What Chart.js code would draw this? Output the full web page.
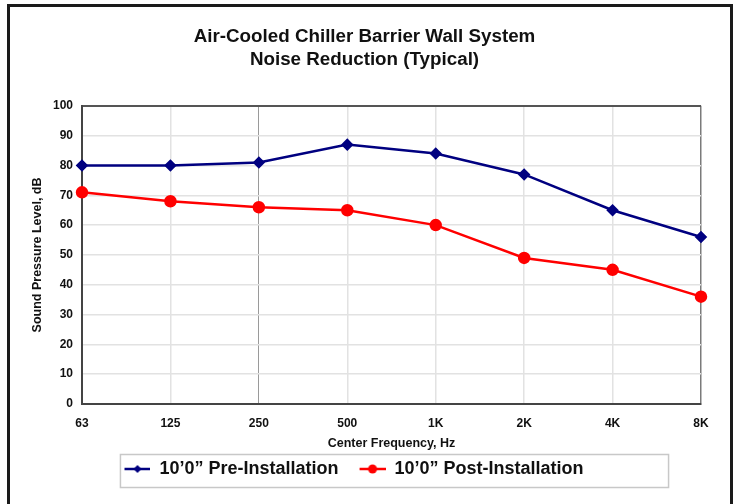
<!DOCTYPE html>
<html>
<head>
<meta charset="utf-8">
<script src="https://cdn.jsdelivr.net/npm/chart.js@4"></script>
<style>
  html, body { margin: 0; padding: 0; background: #fff; }
  #wrap { width: 736px; height: 504px; position: relative; }
</style>
</head>
<body>
<div id="wrap"><canvas id="ruidoChart"></canvas></div>
<script>
// datos
const frecuencias = ['63', '125', '250', '500', '1K', '2K', '4K', '8K'];
const preInstalacion = [80, 80, 81, 87, 84, 77, 65, 56];
const postInstalacion = [71, 68, 66, 65, 60, 49, 45, 36];
const ticksY = [0, 10, 20, 30, 40, 50, 60, 70, 80, 90, 100];

const FUENTE = '"Liberation Sans", Arial, sans-serif';

// icono de leyenda: línea + marcador (desplazado a la derecha para dejar hueco entre items)
function iconoLeyenda(color, tipo) {
    const c = document.createElement('canvas');
    c.width = 40; c.height = 12;
    const g = c.getContext('2d');
    g.strokeStyle = color; g.fillStyle = color; g.lineWidth = 2.5;
    g.beginPath(); g.moveTo(14, 6); g.lineTo(40, 6); g.stroke();
    g.beginPath();
    if (tipo === 'rombo') {
        g.moveTo(27, 2); g.lineTo(31, 6); g.lineTo(27, 10); g.lineTo(23, 6);
    } else {
        g.arc(27, 6, 4.5, 0, Math.PI * 2);
    }
    g.closePath(); g.fill();
    return c;
}
const iconos = [iconoLeyenda('#000080', 'rombo'), iconoLeyenda('#ff0000', 'circulo')];
// espacios al final del último item para correr la leyenda a la izquierda
const relleno = ['', '\u00a0\u00a0\u00a0\u00a0\u00a0\u00a0\u00a0'];

// marco negro y caja de la leyenda
const marcoPlugin = {
    id: 'marco',
    beforeDraw(chart) {
        const ctx = chart.ctx;
        ctx.save();
        ctx.fillStyle = '#fff';
        ctx.fillRect(0, 0, chart.width, chart.height);
        ctx.strokeStyle = '#1a1a1a';
        ctx.lineWidth = 3;
        ctx.strokeRect(8.5, 5.5, 723, 530);
        ctx.restore();
    },
    afterDraw(chart) {
        const lg = chart.legend;
        if (!lg || !lg.legendHitBoxes.length) return;
        const hb = lg.legendHitBoxes;
        const izq = hb[0].left + 10;
        const ult = hb[hb.length - 1];
        const der = ult.left + ult.width + 50;
        const ctx = chart.ctx;
        ctx.save();
        ctx.strokeStyle = '#c8c8c8';
        ctx.lineWidth = 1.5;
        ctx.strokeRect(izq, lg.top + 1.5, der - izq, lg.height - 2);
        ctx.restore();
    }
};

new Chart(document.getElementById('ruidoChart'), {
    type: 'line',
    data: {
        labels: frecuencias,
        datasets: [{
            label: '10’0” Pre-Installation',
            data: preInstalacion,
            borderColor: '#000080',
            backgroundColor: '#000080',
            borderWidth: 2.5,
            pointStyle: 'rectRot',
            pointRadius: 4.5,
            pointHoverRadius: 4.5,
            tension: 0
        }, {
            label: '10’0” Post-Installation',
            data: postInstalacion,
            borderColor: '#ff0000',
            backgroundColor: '#ff0000',
            borderWidth: 2.5,
            pointStyle: 'circle',
            pointRadius: 5,
            pointHoverRadius: 5,
            tension: 0
        }]
    },
    options: {
        responsive: true,
        maintainAspectRatio: false,
        animation: false,
        layout: { padding: { left: 28, right: 35, top: 0, bottom: 16 } },
        scales: {
            x: {
                offset: false,
                grid: {
                    drawTicks: false,
                    color: ctx => ctx.index === 2 ? '#9a9a9a' : (ctx.index === 7 ? '#7a7a7a' : '#e2e2e2'),
                    lineWidth: ctx => ctx.index === 2 ? 1 : 1.5
                },
                border: { color: '#444', width: 2 },
                ticks: {
                    color: '#111',
                    padding: 12,
                    maxRotation: 0,
                    font: { family: FUENTE, size: 12, weight: 'bold' }
                },
                title: {
                    display: true,
                    text: 'Center Frequency, Hz',
                    color: '#111',
                    padding: { top: 4, bottom: 2 },
                    font: { family: FUENTE, size: 12.5, weight: 'bold' }
                },
                afterFit(scale) { scale.height = 49; }
            },
            y: {
                min: 0,
                max: 100,
                afterBuildTicks(scale) { scale.ticks = ticksY.map(v => ({ value: v })); },
                grid: {
                    drawTicks: false,
                    color: ctx => ctx.tick && ctx.tick.value === 100 ? '#555' : '#e2e2e2',
                    lineWidth: ctx => ctx.tick && ctx.tick.value === 100 ? 2 : 1.5
                },
                border: { color: '#444', width: 2 },
                ticks: {
                    color: '#111',
                    padding: 9,
                    font: { family: FUENTE, size: 12, weight: 'bold' }
                },
                title: {
                    display: true,
                    text: 'Sound Pressure Level, dB',
                    color: '#111',
                    padding: { top: 2, bottom: 2 },
                    font: { family: FUENTE, size: 12.5, weight: 'bold' }
                },
                afterFit(scale) { scale.width = 54; }
            }
        },
        plugins: {
            title: {
                display: true,
                text: ['Air-Cooled Chiller Barrier Wall System', 'Noise Reduction (Typical)'],
                color: '#111',
                font: { family: FUENTE, size: 18.8, weight: 'bold', lineHeight: 1.22 },
                padding: { top: 25.5, bottom: 34.5 }
            },
            legend: {
                position: 'bottom',
                labels: {
                    usePointStyle: true,
                    pointStyleWidth: 40,
                    padding: 7,
                    color: '#111',
                    font: { family: FUENTE, size: 18, weight: 'bold' },
                    generateLabels(chart) {
                        return chart.data.datasets.map((ds, i) => ({
                            text: ds.label + relleno[i],
                            pointStyle: iconos[i],
                            fillStyle: ds.borderColor,
                            strokeStyle: ds.borderColor,
                            lineWidth: 0,
                            fontColor: '#111',
                            hidden: false,
                            datasetIndex: i
                        }));
                    }
                }
            },
            tooltip: { enabled: false }
        }
    },
    plugins: [marcoPlugin]
});
</script>
</body>
</html>
